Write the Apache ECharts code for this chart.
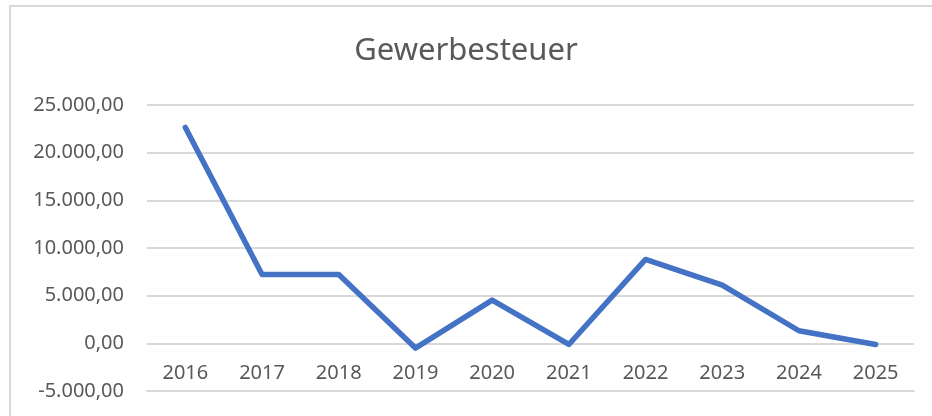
<!DOCTYPE html>
<html>
<head>
<meta charset="utf-8">
<script src="https://cdn.jsdelivr.net/npm/echarts@6/dist/echarts.min.js"></script>
<style>
  html, body { margin: 0; padding: 0; background: #fff; }
  #main { width: 932px; height: 416px; }
</style>
</head>
<body>
<div id="main"></div>
<script>
// Jahre und Werte der Gewerbesteuer
var years = ['2016', '2017', '2018', '2019', '2020', '2021', '2022', '2023', '2024', '2025'];
var gewerbesteuer = [22650, 7230, 7220, -500, 4540, -120, 8800, 6100, 1320, -120];

var chart = echarts.init(document.getElementById('main'));

function fmtDE(v) {
    var neg = v < 0;
    var s = Math.abs(v).toFixed(2).split('.');
    var intPart = s[0].replace(/\B(?=(\d{3})+(?!\d))/g, '.');
    return (neg ? '-' : '') + intPart + ',' + s[1];
}

var option = {
    backgroundColor: '#fff',
    title: {
        text: 'Gewerbesteuer',
        left: 'center',
        top: 31,
        textStyle: {
            fontFamily: 'Noto Sans',
            fontSize: 31,
            fontWeight: 'normal',
            color: '#595959'
        }
    },
    graphic: [{
        type: 'rect',
        shape: { x: 10, y: 6, width: 940, height: 430 },
        style: { fill: 'none', stroke: '#d9d9d9', lineWidth: 2 },
        silent: true
    }],
    grid: {
        left: 147,
        right: 18,
        top: 105,
        bottom: 25,
        outerBoundsMode: 'none'
    },
    xAxis: {
        type: 'category',
        data: years,
        boundaryGap: true,
        axisLine: { show: true, onZero: false, lineStyle: { color: '#d9d9d9', width: 2 } },
        axisTick: { show: false },
        axisLabel: {
            // Beschriftung direkt unter der Nulllinie
            margin: -28,
            fontFamily: 'Noto Sans',
            fontSize: 20,
            color: '#595959'
        }
    },
    yAxis: {
        type: 'value',
        min: -5000,
        max: 25000,
        interval: 5000,
        axisLine: { show: false },
        axisTick: { show: false },
        splitLine: { lineStyle: { color: '#d9d9d9', width: 2 } },
        axisLabel: {
            margin: 23,
            fontFamily: 'Noto Sans',
            fontSize: 20,
            color: '#595959',
            formatter: fmtDE
        }
    },
    series: [{
        name: 'Gewerbesteuer',
        type: 'line',
        data: gewerbesteuer,
        symbol: 'none',
        lineStyle: { color: '#4472c4', width: 5.5, cap: 'round', join: 'round' },
        itemStyle: { color: '#4472c4' }
    }]
};

chart.setOption(option);
</script>
</body>
</html>
